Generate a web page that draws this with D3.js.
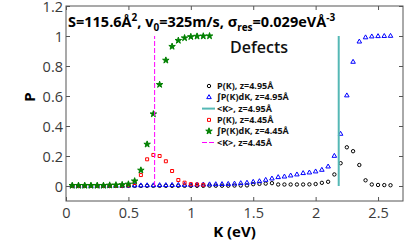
<!DOCTYPE html>
<html>
<head>
<meta charset="utf-8">
<script src="https://cdn.jsdelivr.net/npm/d3@7"></script>
<style>
  body { margin: 0; background: #fff; }
  svg { display: block; font-family: "Open Sans", "Noto Sans", sans-serif; }
</style>
</head>
<body>
<svg width="417" height="242"></svg>
<script>
// K grid of each series (eV)
let kLong = [0.05, 0.1, 0.15, 0.2, 0.25, 0.3, 0.35, 0.4, 0.45, 0.5,
    0.55, 0.6, 0.65, 0.7, 0.75, 0.8, 0.85, 0.9, 0.95, 1.0,
    1.05, 1.1, 1.15, 1.2, 1.25, 1.3, 1.35, 1.4, 1.45, 1.5,
    1.55, 1.6, 1.65, 1.7, 1.75, 1.8, 1.85, 1.9, 1.95, 2.0,
    2.05, 2.1, 2.15, 2.2, 2.25, 2.3, 2.35, 2.4, 2.45, 2.5,
    2.55, 2.6];
let kShort = [0.05, 0.1, 0.15, 0.2, 0.25, 0.3, 0.35, 0.4, 0.45, 0.5,
    0.55, 0.6, 0.65, 0.7, 0.75, 0.8, 0.85, 0.9, 0.95, 1.0,
    1.05, 1.1, 1.15];

// z = 4.95 A
let pk495 = [0, 0, 0, 0, 0, 0, 0, 0, 0, 0.001,
    0.001, 0.001, 0.001, 0.001, 0.001, 0.001, 0.001, 0.001, 0.001, 0.001,
    0.001, 0.001, 0.002, 0.002, 0.002, 0.002, 0.003, 0.003, 0.004, 0.012,
    0.014, 0.016, 0.019, 0.01, 0.01, 0.01, 0.01, 0.01, 0.011, 0.013,
    0.021, 0.028, 0.077, 0.152, 0.258, 0.232, 0.14, 0.038, 0.01, 0.007,
    0.006, 0.005];
let cum495 = [0, 0, 0, 0, 0, 0, 0, 0.001, 0.001, 0.002,
    0.003, 0.003, 0.004, 0.004, 0.005, 0.005, 0.006, 0.006, 0.007, 0.007,
    0.008, 0.009, 0.01, 0.011, 0.012, 0.013, 0.015, 0.018, 0.021, 0.027,
    0.031, 0.04, 0.049, 0.058, 0.062, 0.069, 0.076, 0.085, 0.089, 0.096,
    0.107, 0.129, 0.2, 0.347, 0.603, 0.827, 0.962, 0.99, 0.996, 0.998,
    0.999, 1.0];

// z = 4.45 A
let pk445 = [0.001, 0.001, 0.001, 0.001, 0.001, 0.001, 0.002, 0.002, 0.003, 0.005,
    0.02, 0.073, 0.178, 0.207, 0.2, 0.165, 0.1, 0.04, 0.022, 0.012,
    0.01, 0.008];
let cum445 = [0.003, 0.003, 0.003, 0.003, 0.003, 0.003, 0.005, 0.006, 0.008, 0.012,
    0.033, 0.105, 0.278, 0.48, 0.676, 0.838, 0.93, 0.97, 0.987, 0.995,
    0.998, 0.999, 1.0];

// mean K of each distribution
let meanK = [2.185, 0.71];

let xTicks = [0, 0.5, 1, 1.5, 2, 2.5];
let yTicks = [0, 0.2, 0.4, 0.6, 0.8, 1, 1.2];

let legendLabels = ['P(K), z=4.95Å', '∫P(K)dK, z=4.95Å', '<K>, z=4.95Å',
    'P(K), z=4.45Å', '∫P(K)dK, z=4.45Å', '<K>, z=4.45Å'];

let svg = d3.select('svg');
let mLeft = 66, mRight = 403, mTop = 6, mBottom = 201;

let x = d3.scaleLinear().domain([0, 2.7]).range([mLeft, mRight]);
let y = d3.scaleLinear().domain([-0.1, 1.2]).range([mBottom, mTop]);

let axisColor = '#555';
let labelColor = '#3a3a3a';

// axes with inward ticks
let gx = svg.append('g').attr('transform', `translate(0,${mBottom})`)
    .call(d3.axisBottom(x).tickValues(xTicks).tickSizeInner(-4).tickSizeOuter(0).tickPadding(7)
        .tickFormat(d3.format('~g')));
let gy = svg.append('g').attr('transform', `translate(${mLeft},0)`)
    .call(d3.axisLeft(y).tickValues(yTicks).tickSizeInner(-4).tickSizeOuter(0).tickPadding(3)
        .tickFormat(d3.format('~g')));
svg.append('g').attr('transform', `translate(0,${mTop})`)
    .call(d3.axisTop(x).tickValues(xTicks).tickSizeInner(-4).tickSizeOuter(0).tickFormat(''));
svg.append('g').attr('transform', `translate(${mRight},0)`)
    .call(d3.axisRight(y).tickValues(yTicks).tickSizeInner(-4).tickSizeOuter(0).tickFormat(''));

svg.selectAll('.domain').remove();
svg.selectAll('.tick line').attr('stroke', axisColor);
[gx, gy].forEach(g => g.selectAll('text')
    .attr('fill', labelColor).style('font-size', '14.5px').style('font-family', '"Open Sans", sans-serif'));
gy.selectAll('text').attr('dy', '0.4em');

svg.append('rect')
    .attr('x', mLeft).attr('y', mTop)
    .attr('width', mRight - mLeft).attr('height', mBottom - mTop)
    .attr('fill', 'none').attr('stroke', axisColor).attr('stroke-width', 1);

// data series
let circle = d3.symbol().type(d3.symbolCircle).size(9);
let tri = d3.symbol().type(d3.symbolTriangle).size(9);
let square = d3.symbol().type(d3.symbolSquare).size(9);
let star = d3.symbol().type(d3.symbolStar).size(13);

function markers(ks, vals, sym, fill, stroke) {
    svg.append('g').selectAll('path')
        .data(ks.map((k, i) => [k, vals[i]]))
        .enter().append('path')
        .attr('d', sym)
        .attr('transform', d => `translate(${x(d[0])},${y(d[1])})`)
        .attr('fill', fill)
        .attr('stroke', stroke)
        .attr('stroke-width', 1);
}

markers(kLong, pk495, circle, 'none', '#000');
markers(kLong, cum495, tri, 'none', '#0000ff');
svg.append('line')
    .attr('x1', x(meanK[0])).attr('x2', x(meanK[0]))
    .attr('y1', y(0)).attr('y2', y(1))
    .attr('stroke', '#55b8b5').attr('stroke-width', 2);
markers(kShort.slice(0, pk445.length), pk445, square, 'none', '#ff0000');
markers(kShort, cum445, star, '#008000', '#008000');
svg.append('line')
    .attr('x1', x(meanK[1])).attr('x2', x(meanK[1]))
    .attr('y1', y(0)).attr('y2', y(1))
    .attr('stroke', '#ff00ff').attr('stroke-width', 1)
    .attr('stroke-dasharray', '5,2');

// title
let title = svg.append('text')
    .attr('x', 68).attr('y', 27)
    .attr('font-weight', 'bold').attr('font-size', 14.5).attr('fill', '#000');
title.append('tspan').text('S=115.6Å');
title.append('tspan').attr('font-size', 10).attr('dy', -6).text('2');
title.append('tspan').attr('dy', 6).text(', v');
title.append('tspan').attr('font-size', 10).attr('dy', 4).text('0');
title.append('tspan').attr('dy', -4).text('=325m/s, σ');
title.append('tspan').attr('font-size', 10).attr('dy', 4).text('res');
title.append('tspan').attr('dy', -4).text('=0.029eVÅ');
title.append('tspan').attr('font-size', 10).attr('dy', -6).text('-3');

svg.append('text')
    .attr('x', 230).attr('y', 53)
    .attr('font-size', 16).attr('font-weight', 600).attr('fill', '#111')
    .text('Defects');

// axis labels
svg.append('text')
    .attr('transform', 'translate(35,97) rotate(-90)')
    .attr('text-anchor', 'middle')
    .attr('font-size', 15).attr('font-weight', 'bold')
    .text('P');
svg.append('text')
    .attr('x', (mLeft + mRight) / 2).attr('y', 237)
    .attr('text-anchor', 'middle')
    .attr('font-size', 15).attr('font-weight', 'bold')
    .text('K (eV)');

// legend
let legendTop = 86, legendStep = 11.3;
let lg = svg.append('g');
let legendSyms = [
    {sym: circle, fill: 'none', stroke: '#000'},
    {sym: tri, fill: 'none', stroke: '#0000ff'},
    {line: '#55b8b5', width: 2},
    {sym: square, fill: 'none', stroke: '#ff0000'},
    {sym: star, fill: '#008000', stroke: '#008000'},
    {line: '#ff00ff', width: 1, dash: '5,2'}
];
legendLabels.forEach((label, i) => {
    let cy = legendTop + i * legendStep;
    let s = legendSyms[i];
    if (s.line) {
        lg.append('line')
            .attr('x1', 202).attr('x2', 215).attr('y1', cy).attr('y2', cy)
            .attr('stroke', s.line).attr('stroke-width', s.width)
            .attr('stroke-dasharray', s.dash || null);
    } else {
        lg.append('path').attr('d', s.sym)
            .attr('transform', `translate(209,${cy})`)
            .attr('fill', s.fill).attr('stroke', s.stroke).attr('stroke-width', 1);
    }
    lg.append('text')
        .attr('x', 217).attr('y', cy).attr('dy', '0.35em')
        .attr('font-size', 9).attr('font-weight', 'bold').attr('fill', '#111')
        .text(label);
});
</script>
</body>
</html>
